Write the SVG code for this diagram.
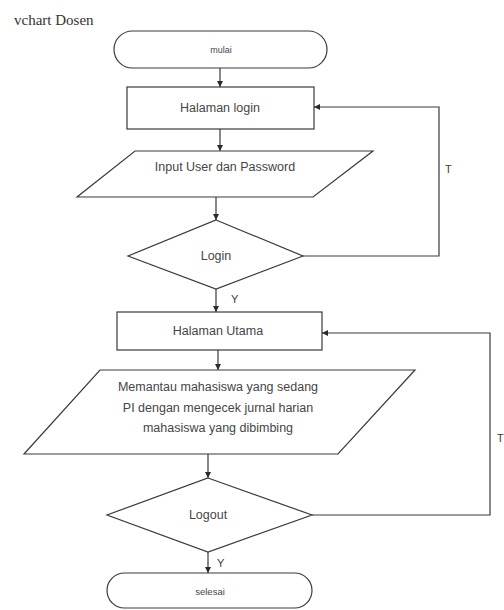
<svg xmlns="http://www.w3.org/2000/svg" width="504" height="610" viewBox="0 0 504 610">
<style>
.s{fill:#fff;stroke:#3a3a3a;stroke-width:1.2}
.c{fill:none;stroke:#3a3a3a;stroke-width:1.2}
.t{font-family:"Liberation Sans",Arial,sans-serif;font-size:12.5px;fill:#454545;text-anchor:middle;dominant-baseline:central}
.l{font-family:"Liberation Sans",Arial,sans-serif;font-size:11px;fill:#3c3c3c}
</style>
<defs>
<marker id="a" viewBox="0 0 6 6" refX="6" refY="3" markerWidth="6" markerHeight="6" markerUnits="userSpaceOnUse" orient="auto">
<path d="M0,0 L6,3 L0,6 z" fill="#2a2a2a"/>
</marker>
</defs>
<rect width="504" height="610" fill="#fff"/>
<text x="14" y="25" style="font-family:'Liberation Serif','Times New Roman',serif;font-size:15px;fill:#333">vchart Dosen</text>
<g id="connectors">
<path class="c" d="M220,68 V87" marker-end="url(#a)"/>
<path class="c" d="M220,129 V151" marker-end="url(#a)"/>
<path class="c" d="M216,197 V220" marker-end="url(#a)"/>
<path class="c" d="M216,289 V312" marker-end="url(#a)"/>
<path class="c" d="M303,256 H439 V107 H314" marker-end="url(#a)"/>
<path class="c" d="M218,350 V370" marker-end="url(#a)"/>
<path class="c" d="M208,454 V478" marker-end="url(#a)"/>
<path class="c" d="M208,552 V573" marker-end="url(#a)"/>
<path class="c" d="M312,515 H490 V333 H322" marker-end="url(#a)"/>
<text class="l" x="445" y="173">T</text>
<text class="l" x="231" y="303">Y</text>
<text class="l" x="497" y="442">T</text>
<text class="l" x="217" y="567">Y</text>
</g>
<g id="mulai">
<rect class="s" x="114" y="31" width="213" height="37" rx="18.5"/>
<text class="t" x="221" y="50" style="font-size:9px">mulai</text>
</g>
<g id="halaman-login">
<rect class="s" x="127" y="87" width="187" height="42"/>
<text class="t" x="220" y="108">Halaman login</text>
</g>
<g id="input-user">
<polygon class="s" points="135,151 373,151 313,197 77,197"/>
<text class="t" x="225" y="167">Input User dan Password</text>
</g>
<g id="login">
<polygon class="s" points="216,220 303,256 216,289 128,256"/>
<text class="t" x="216" y="256">Login</text>
</g>
<g id="halaman-utama">
<rect class="s" x="117" y="312" width="205" height="38"/>
<text class="t" x="218" y="331">Halaman Utama</text>
</g>
<g id="memantau">
<polygon class="s" points="100,370 415,370 338,454 24,454"/>
<text class="t" x="218" y="387">Memantau mahasiswa yang sedang</text>
<text class="t" x="218" y="408">PI dengan mengecek jurnal harian</text>
<text class="t" x="218" y="428">mahasiswa yang dibimbing</text>
</g>
<g id="logout">
<polygon class="s" points="208,478 312,515 208,552 107,515"/>
<text class="t" x="208" y="515">Logout</text>
</g>
<g id="selesai">
<rect class="s" x="107" y="573" width="205" height="35" rx="17.5"/>
<text class="t" x="210" y="591" style="font-size:9.5px">selesai</text>
</g>
</svg>
